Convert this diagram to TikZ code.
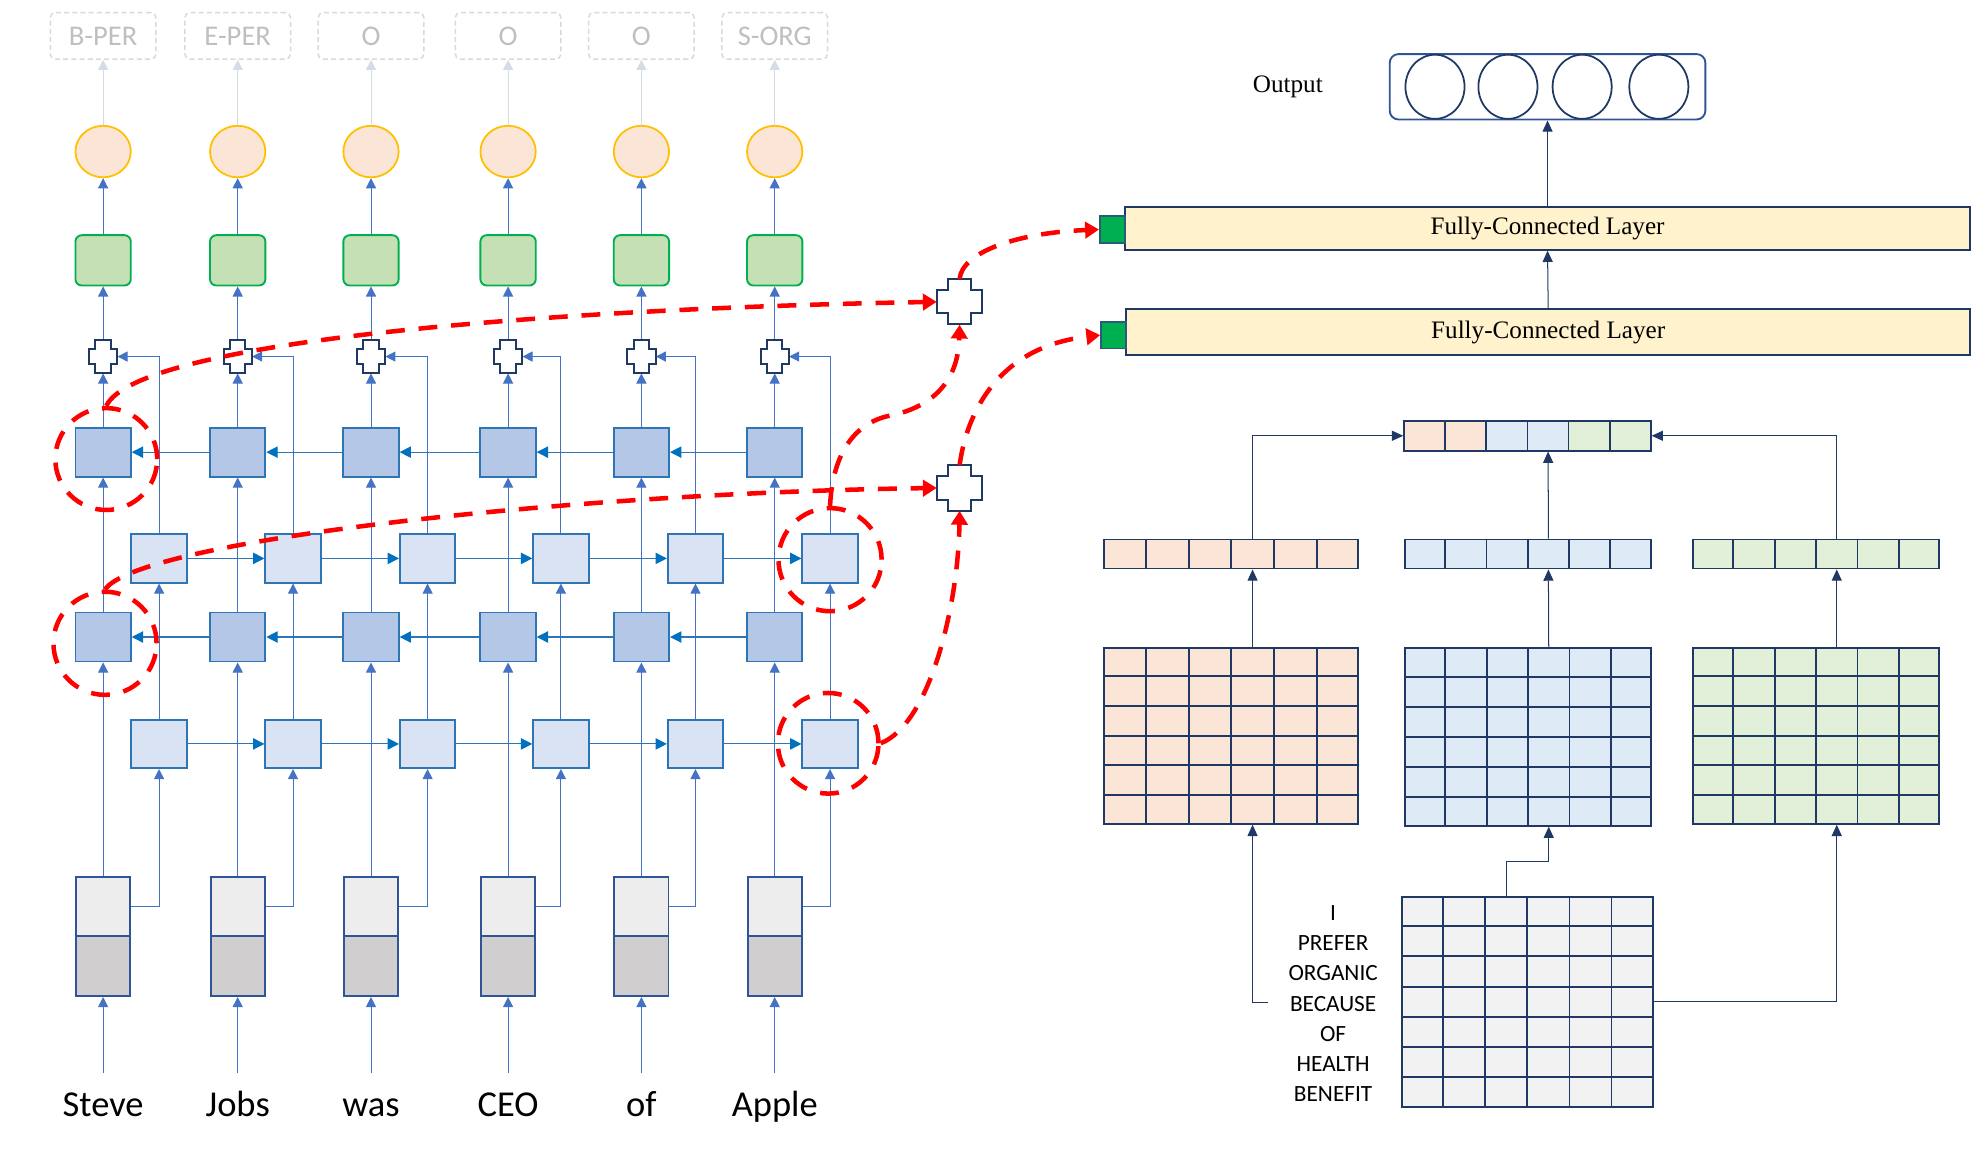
\documentclass[tikz,border=0pt]{standalone}
\usepackage{fontspec}
\setmainfont{Carlito}
\newfontfamily\tnr{Liberation Serif}
\usetikzlibrary{arrows.meta,calc,shapes.geometric}
\definecolor{tagc}{HTML}{D9D9D9}
\definecolor{tagt}{HTML}{BFBFBF}
\definecolor{faint}{HTML}{D6DCE5}
\definecolor{peach}{HTML}{FBE5D6}
\definecolor{gold}{HTML}{FFC000}
\definecolor{gfill}{HTML}{C5E0B4}
\definecolor{gline}{HTML}{00B050}
\definecolor{navy}{HTML}{1F3864}
\definecolor{dfill}{HTML}{B4C7E7}
\definecolor{lfill}{HTML}{DAE3F3}
\definecolor{bline}{HTML}{2E75B6}
\definecolor{arr}{HTML}{4472C4}
\definecolor{harr}{HTML}{0070C0}
\definecolor{emtop}{HTML}{EDEDED}
\definecolor{embot}{HTML}{D0CECE}
\definecolor{emline}{HTML}{2F5597}
\definecolor{fcfill}{HTML}{FFF2CC}
\definecolor{sqfill}{HTML}{00B050}
\definecolor{sqline}{HTML}{2E5A7A}
\definecolor{lblue}{HTML}{DEEBF7}
\definecolor{lgreen}{HTML}{E2F0D9}
\definecolor{lgrey}{HTML}{F2F2F2}
\definecolor{redd}{HTML}{FF0000}
\newcommand{\mkplus}[5]{%
 \begin{scope}[shift={(#1.center)}]
 \filldraw[crossln] (-#2,-#5) -- (-#4,-#5) -- (-#4,-#3) -- (#4,-#3) -- (#4,-#5) -- (#2,-#5) -- (#2,#5) -- (#4,#5) -- (#4,#3) -- (-#4,#3) -- (-#4,#5) -- (-#2,#5) -- cycle;
 \end{scope}}
\newcommand{\mkcols}[2]{\pgfmathtruncatemacro\ncm{#2-1}\foreach \k in {1,...,\ncm}{\draw[gridln] ($(#1.north west)!\k/#2!(#1.north east)$) -- ($(#1.south west)!\k/#2!(#1.south east)$);}}
\newcommand{\mkrows}[2]{\pgfmathtruncatemacro\nrm{#2-1}\foreach \k in {1,...,\nrm}{\draw[gridln] ($(#1.north west)!\k/#2!(#1.south west)$) -- ($(#1.north east)!\k/#2!(#1.south east)$);}}
\tikzset{
 tagbox/.style={draw=tagc, dash pattern=on 4pt off 2.5pt, rounded corners=4pt, line width=1.2pt, minimum width=84pt, minimum height=37pt, text=tagt, font=\fontsize{22.7}{24}\selectfont, inner sep=0pt},
 ell/.style={ellipse, draw=gold, fill=peach, line width=1.4pt, minimum width=44pt, minimum height=41pt, inner sep=0pt},
 gbox/.style={rectangle, rounded corners=5pt, draw=gline, fill=gfill, line width=1.5pt, minimum width=44pt, minimum height=40pt, inner sep=0pt},
 xnode/.style={rectangle, draw=none, inner sep=0pt},
 crossln/.style={draw=navy, fill=white, line width=1.6pt},
 dbox/.style={rectangle, draw=bline, fill=dfill, line width=1.5pt, minimum width=44pt, minimum height=39pt, inner sep=0pt},
 lbox/.style={rectangle, draw=bline, fill=lfill, line width=1.5pt, minimum width=44pt, minimum height=38.5pt, inner sep=0pt},
 embt/.style={rectangle, draw=emline, fill=emtop, line width=1.5pt, minimum width=43pt, minimum height=47pt, inner sep=0pt},
 embb/.style={rectangle, draw=emline, fill=embot, line width=1.5pt, minimum width=43pt, minimum height=48pt, inner sep=0pt},
 word/.style={font=\fontsize{29}{30}\selectfont, inner sep=0pt, anchor=base},
 barrow/.style={draw=arr, line width=0.8pt, -{Triangle[length=8pt,width=8pt]}},
 farrow/.style={draw=faint, line width=0.8pt, -{Triangle[length=8pt,width=8pt]}},
 harrow/.style={draw=bline, line width=0.9pt, -{Triangle[length=9pt,width=9pt,color=harr]}},
 rline/.style={draw=redd, line width=3.6pt, dash pattern=on 15pt off 11pt},
 rarrow/.style={rline, -{Triangle[length=11pt,width=13pt]}},
 rcirc/.style={circle, rline, inner sep=0pt},
 fcbox/.style={rectangle, draw=navy, fill=fcfill, line width=1.6pt, inner sep=0pt, font=\tnr\fontsize{20}{22}\selectfont},
 gsq/.style={rectangle, draw=sqline, fill=sqfill, line width=1.4pt, minimum width=20pt, minimum height=21pt, inner sep=0pt},
 gridbox/.style={rectangle, draw=navy, line width=1.5pt, inner sep=0pt},
 gridln/.style={draw=navy, line width=1.5pt},
 narrow/.style={draw=navy, line width=0.8pt, -{Triangle[length=9pt,width=8pt]}},
 oell/.style={ellipse, draw=navy, line width=1.4pt, minimum width=47pt, minimum height=51pt, inner sep=0pt},
}
\begin{document}
\begin{tikzpicture}[x=1pt,y=-1pt]
\useasboundingbox (0,0) rectangle (1568,914);

% ---------------- left network ----------------
\foreach \i/\c/\l/\t/\w in {1/82/126.5/B-PER/Steve, 2/189/233/E-PER/Jobs, 3/295/340/O/was, 4/404/446/O/CEO, 5/510/553/O/of, 6/616/660/S-ORG/Apple}{
  \node[tagbox] (T\i) at (\c,28.5) {\t};
  \node[ell] (E\i) at (\c,120.5) {};
  \node[gbox] (G\i) at (\c,207) {};
  \node[xnode, minimum width=22.5pt, minimum height=26.5pt] (C\i) at (\c,283.5) {};
  \node[dbox] (D\i) at (\c,359.5) {};
  \node[lbox] (L\i) at (\l,444) {};
  \node[dbox] (DD\i) at (\c,506.5) {};
  \node[lbox] (LL\i) at (\l,591.5) {};
  \node[embt] (M\i) at (\c,720.5) {};
  \node[embb] (N\i) at (\c,768) {};
  \node[word] (W\i) at (\c,887.5) {\w};
  \coordinate (w\i) at (\c,853);
  \draw[barrow] (w\i) -- (N\i.south);
  \draw[barrow] (M\i.north) -- (DD\i.south);
  \draw[barrow] (M\i.east) -| (LL\i.south);
  \draw[barrow] (DD\i.north) -- (D\i.south);
  \draw[barrow] (LL\i.north) -- (L\i.south);
  \draw[barrow] (L\i.north) |- (C\i.east);
  \draw[barrow] (D\i.north) -- (C\i.south);
  \draw[barrow] (C\i.north) -- (G\i.south);
  \draw[barrow] (G\i.north) -- (E\i.south);
  \draw[farrow] (E\i.north) -- (T\i.south);
  \mkplus{C\i}{11.25}{13.25}{6.1}{6}
}
\foreach \i in {1,...,5}{
  \pgfmathtruncatemacro\j{\i+1}
  \draw[harrow] (D\j.west) -- (D\i.east);
  \draw[harrow] (DD\j.west) -- (DD\i.east);
  \draw[harrow] (L\i.east) -- (L\j.west);
  \draw[harrow] (LL\i.east) -- (LL\j.west);
}

% big crosses
\node[xnode, minimum width=36pt, minimum height=36pt] (X1) at (763,240) {};
\node[xnode, minimum width=36pt, minimum height=36pt] (X2) at (763,388) {};
\mkplus{X1}{18}{18}{9.2}{9.2}
\mkplus{X2}{18}{18}{9.2}{9.2}

% ---------------- right network ----------------
\node[font=\tnr\fontsize{20}{22}\selectfont, inner sep=0pt] (OUT) at (1024,69) {Output};
\node[rectangle, rounded corners=7pt, draw=emline, line width=1.5pt, minimum width=251pt, minimum height=52pt, inner sep=0pt] (OB) at (1230.5,69) {};
\node[oell] (O1) at (1141,69) {};
\node[oell] (O2) at (1199,69) {};
\node[oell] (O3) at (1258,69) {};
\node[oell] (O4) at (1319,69) {};

\node[fcbox, minimum width=672pt, minimum height=34pt] (FC2) at (1230.5,181.5) {Fully-Connected Layer};
\node[gsq] (S2) at (884.5,182.5) {};
\node[fcbox, minimum width=671pt, minimum height=36pt] (FC1) at (1231,264) {Fully-Connected Layer};
\node[gsq] (S1) at (885.5,266.5) {};
\draw[narrow] (FC2.north) -- (OB.south);
\draw[narrow] (FC1.north) -- (FC2.south);

% concatenated vector
\foreach \k/\col in {1/peach,2/peach,3/lblue,4/lblue,5/lgreen,6/lgreen}{
  \node[rectangle, draw=navy, fill=\col, line width=1.5pt, minimum width=32.67pt, minimum height=23.5pt, inner sep=0pt] (CV\k) at ({1100.17+32.67*\k},346.5) {};
}
\node[gridbox, minimum width=196pt, minimum height=23.5pt] (CV) at (1214.5,346.5) {};

% small vectors
\node[gridbox, fill=peach, minimum width=202pt, minimum height=23pt] (VP) at (979,440.5) {};
\node[gridbox, fill=lblue, minimum width=195.5pt, minimum height=23pt] (VB) at (1214.75,440.5) {};
\node[gridbox, fill=lgreen, minimum width=196pt, minimum height=23pt] (VG) at (1444,440.5) {};
\mkcols{VP}{6}\mkcols{VB}{6}\mkcols{VG}{6}

% grids
\node[gridbox, fill=peach, minimum width=202pt, minimum height=140pt] (GP) at (979,585) {};
\node[gridbox, fill=lblue, minimum width=196pt, minimum height=141.5pt] (GB) at (1215,585.75) {};
\node[gridbox, fill=lgreen, minimum width=196pt, minimum height=140pt] (GG) at (1444,585) {};
\mkcols{GP}{6}\mkrows{GP}{6}
\mkcols{GB}{6}\mkrows{GB}{6}
\mkcols{GG}{6}\mkrows{GG}{6}

% input grid
\node[gridbox, fill=lgrey, minimum width=199pt, minimum height=167pt] (GI) at (1214.5,796.5) {};
\mkcols{GI}{6}\mkrows{GI}{7}

\node[align=center, inner sep=0pt, font=\fontsize{18.5}{24}\selectfont] (TX) at (1060,798) {I\\PREFER\\ORGANIC\\BECAUSE\\OF\\HEALTH\\BENEFIT};

% connection points
\coordinate (vp4t) at ($(VP.north west)!0.5833!(VP.north east)$);
\coordinate (vb4t) at ($(VB.north west)!0.5833!(VB.north east)$);
\coordinate (vg4t) at ($(VG.north west)!0.5833!(VG.north east)$);
\coordinate (vp4b) at ($(VP.south west)!0.5833!(VP.south east)$);
\coordinate (vb4b) at ($(VB.south west)!0.5833!(VB.south east)$);
\coordinate (vg4b) at ($(VG.south west)!0.5833!(VG.south east)$);
\coordinate (gp4t) at ($(GP.north west)!0.5833!(GP.north east)$);
\coordinate (gb4t) at ($(GB.north west)!0.5833!(GB.north east)$);
\coordinate (gg4t) at ($(GG.north west)!0.5833!(GG.north east)$);
\coordinate (gp4b) at ($(GP.south west)!0.5833!(GP.south east)$);
\coordinate (gb4b) at ($(GB.south west)!0.5833!(GB.south east)$);
\coordinate (gg4b) at ($(GG.south west)!0.5833!(GG.south east)$);
\coordinate (gi3t) at ($(GI.north west)!0.4167!(GI.north east)$);
\coordinate (cv4b) at ($(CV.south west)!0.5833!(CV.south east)$);
\coordinate (stub) at (1008,797);

\draw[narrow] (vb4t) -- (cv4b);
\draw[narrow] (vp4t) |- (CV.west);
\draw[narrow] (vg4t) |- (CV.east);
\draw[narrow] (gp4t) -- (vp4b);
\draw[narrow] (gb4t) -- (vb4b);
\draw[narrow] (gg4t) -- (vg4b);
\draw[narrow] (gi3t) |- ($(gi3t)!0.5!(gb4b)$) -| (gb4b);
\draw[narrow] (GI.east) -| (gg4b);
\draw[narrow] (stub) -| (gp4b);

% ---------------- red highlights ----------------
\node[rcirc, minimum size=81pt] (R1) at (84.5,365) {};
\node[rcirc, minimum size=82pt] (R2) at (83.5,511.5) {};
\node[rcirc, minimum size=82pt] (R3) at (660,445) {};
\node[rcirc, minimum size=80pt] (R4) at (658.5,591) {};

\draw[rarrow] (R1.north) .. controls (110,270) and (450,245) .. (X1.west);
\draw[rarrow] (R2.north) .. controls (110,430) and (450,392) .. (X2.west);
\draw[rarrow] (R3.north) .. controls (662,360) and (680,335) .. (710,330) .. controls (745,322) and (762,300) .. (X1.south);
\draw[rarrow] (R4.east) .. controls (740,575) and (762,480) .. (X2.south);
\draw[rarrow] (X1.north) .. controls (765,200) and (810,185) .. (S2.west);
\draw[rarrow] (X2.north) .. controls (770,320) and (800,275) .. (S1.west);
\end{tikzpicture}
\end{document}
